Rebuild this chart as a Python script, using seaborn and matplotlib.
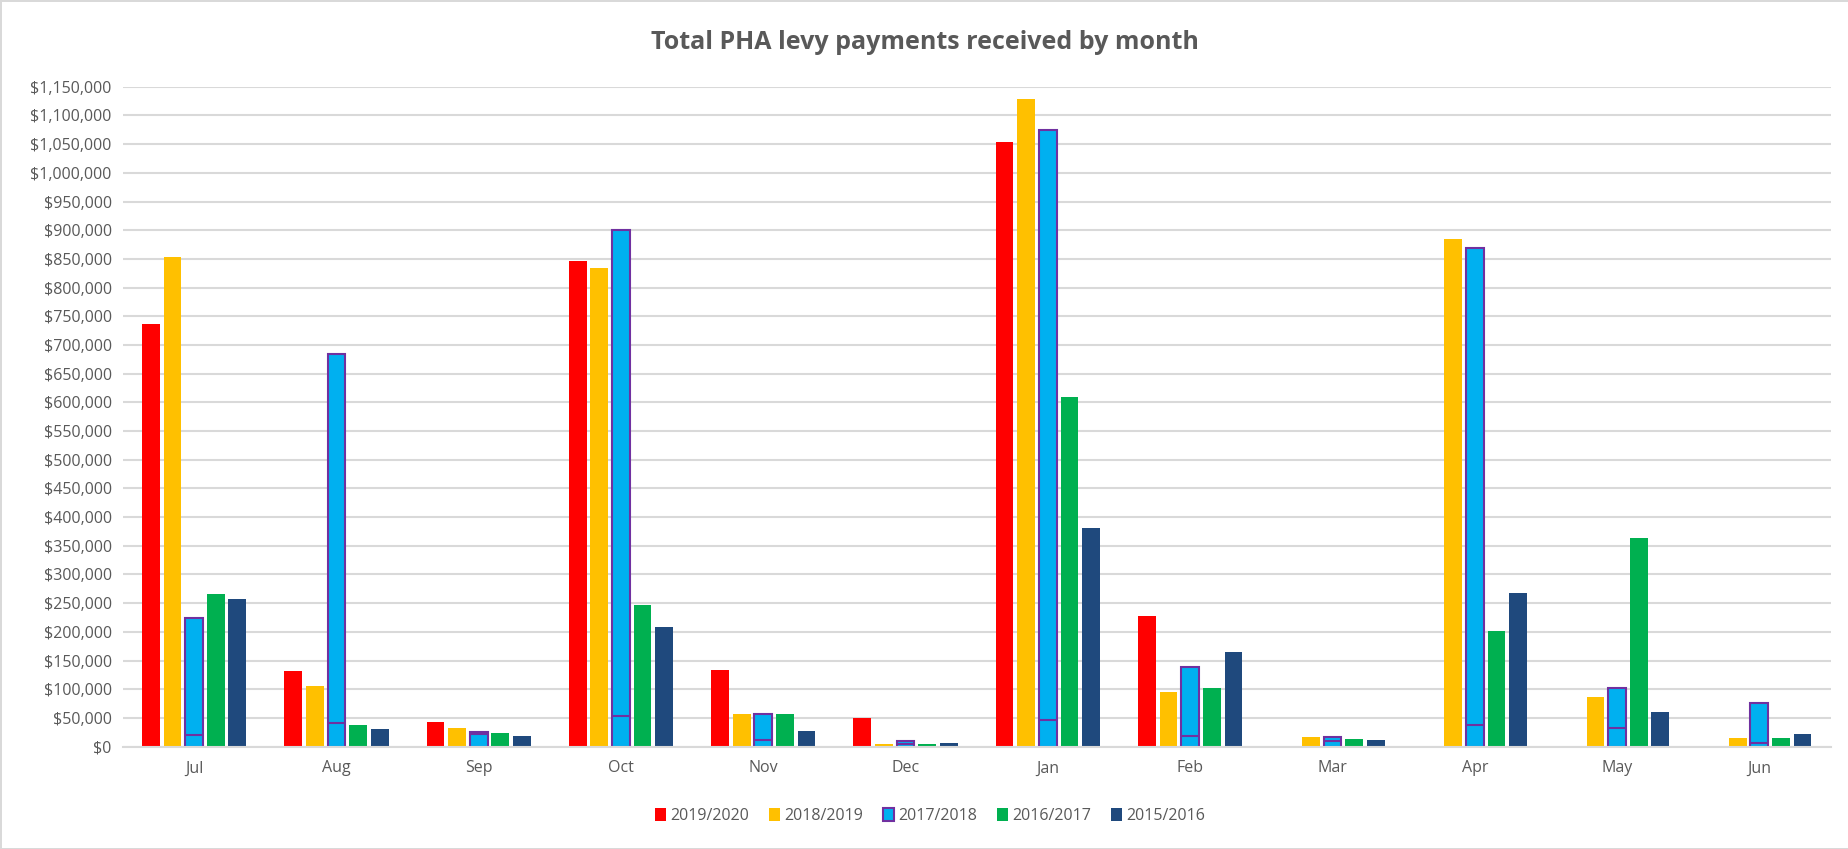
import matplotlib
matplotlib.use('Agg')
import matplotlib.pyplot as plt
import matplotlib.ticker as mticker
import pandas as pd
import seaborn as sns


months = ['Jul', 'Aug', 'Sep', 'Oct', 'Nov', 'Dec', 'Jan', 'Feb', 'Mar', 'Apr', 'May', 'Jun']
years = ['2019/2020', '2018/2019', '2017/2018', '2016/2017', '2015/2016']

pay_2019_2020 = [736000, 131000, 43000, 847000, 133000, 49000, 1054000, 228000, 0, 0, 0, 0]
pay_2018_2019 = [853000, 105000, 33000, 834000, 56000, 5000, 1128000, 95000, 16000, 885000, 86000, 15000]
pay_2017_2018 = [225000, 685000, 26000, 901000, 57000, 9000, 1075000, 139000, 16000, 869000, 103000, 76000]
pay_2016_2017 = [266000, 37000, 23000, 246000, 56000, 5000, 610000, 103000, 13000, 202000, 364000, 15000]
pay_2015_2016 = [257000, 30000, 19000, 208000, 27000, 7000, 381000, 165000, 12000, 268000, 60000, 22000]
# 2017/2018 bars are split in two segments; height of the lower one
split_2017_2018 = [21000, 42000, 22000, 53000, 12000, 4000, 47000, 19000, 10000, 38000, 33000, 6000]

colors = ['#FF0000', '#FFC000', '#00B0F0', '#00B050', '#1F497D']
purple = '#7030A0'
text_grey = '#595959'

series = [pay_2019_2020, pay_2018_2019, pay_2017_2018, pay_2016_2017, pay_2015_2016]
df = pd.DataFrame({
  'month': months * len(years),
  'year': [y for y in years for _ in months],
  'amount': [v for s in series for v in s],
})

sns.set_style('white')
plt.rcParams['font.family'] = ['Open Sans', 'DejaVu Sans']

fig = plt.figure(figsize=(18.49, 8.49), dpi=100, edgecolor='#d9d9d9', linewidth=2)
ax = fig.add_axes([0.0665, 0.1206, 0.9235, 0.7772])

sns.barplot(data=df, x='month', y='amount', hue='year', order=months, hue_order=years,
            palette=colors, width=0.76, gap=0.18, saturation=1, linewidth=0, ax=ax)

blue = ax.containers[2]
for bar, low in zip(blue.patches, split_2017_2018):
  bar.set_edgecolor(purple)
  bar.set_linewidth(1.5)
  ax.hlines(low, bar.get_x(), bar.get_x() + bar.get_width(), color=purple, lw=1.5, zorder=3)

ax.set_ylim(0, 1150000)
ax.set_xlim(-0.5, 11.5)
ax.yaxis.set_major_locator(mticker.MultipleLocator(50000))
ax.yaxis.set_major_formatter(mticker.FuncFormatter(lambda v, p: f'${v:,.0f}'))
ax.grid(axis='y', color='#d9d9d9', lw=1.5)
ax.set_axisbelow(True)
for s in ['top', 'right', 'left']:
  ax.spines[s].set_visible(False)
ax.spines['bottom'].set_color('#d9d9d9')
ax.spines['bottom'].set_linewidth(1.5)
ax.tick_params(axis='both', length=0, labelsize=11.5, labelcolor=text_grey)
ax.tick_params(axis='x', pad=10)
ax.tick_params(axis='y', pad=8)
ax.set_xlabel('')
ax.set_ylabel('')

sns.move_legend(ax, 'center', bbox_to_anchor=(0.503, 0.039), bbox_transform=fig.transFigure,
                ncol=5, frameon=False, title=None, fontsize=11.5, handlelength=0.7,
                handleheight=0.9, handletextpad=0.3, columnspacing=1.2, labelcolor=text_grey)
handles = ax.get_legend().legend_handles
for h, c in zip(handles, colors):
  h.set_facecolor(c)
  h.set_linewidth(0)
handles[2].set_edgecolor(purple)
handles[2].set_linewidth(1.5)

fig.text(0.5, 0.95, 'Total PHA levy payments received by month', ha='center', va='center',
         fontsize=18, fontweight='bold', color=text_grey, family=['Open Sans', 'DejaVu Sans'])

fig.savefig('out.png', dpi=100)
